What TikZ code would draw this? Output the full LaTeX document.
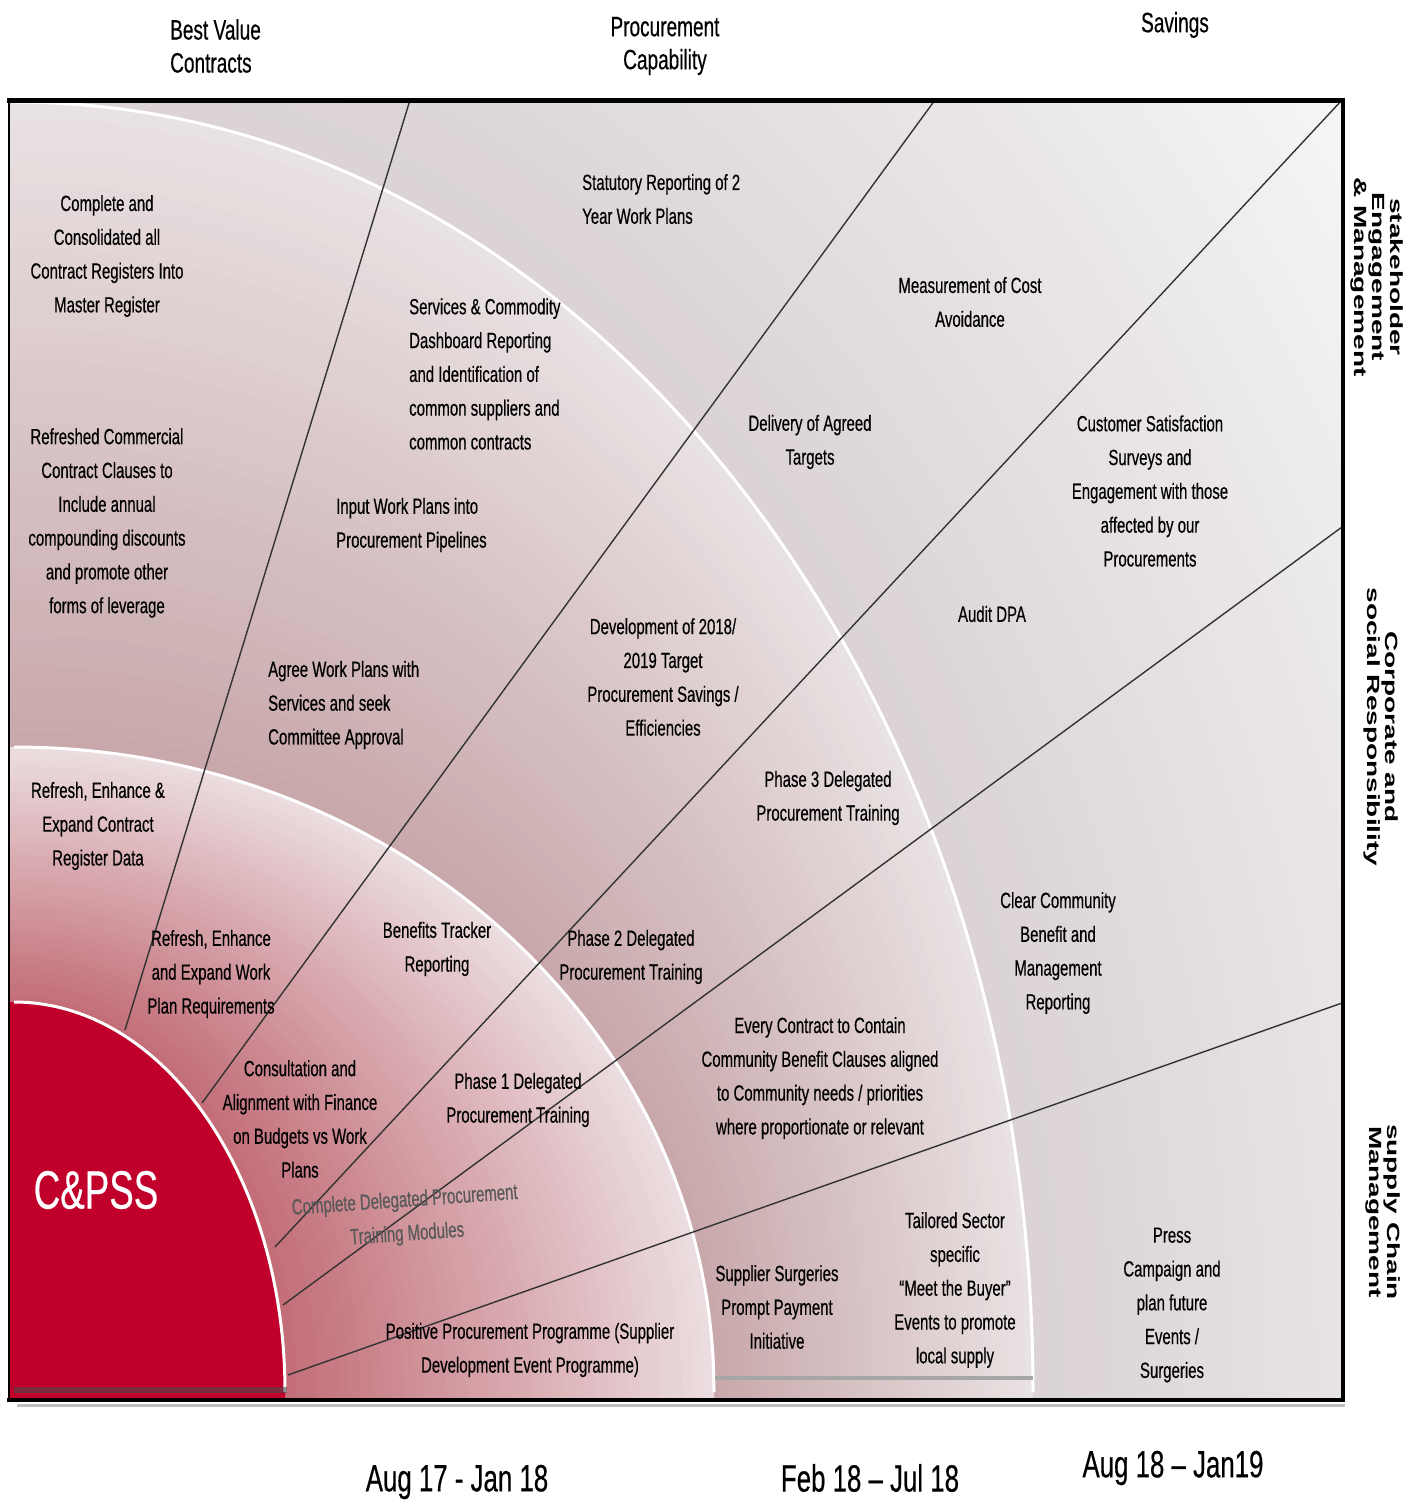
\documentclass[tikz,border=0pt]{standalone}
\usepackage{fontspec}
\usepackage{graphicx}
\setmainfont{Liberation Sans}[FakeStretch=0.68, FakeBold=0.4]
\newfontfamily\sidefont{Liberation Sans}
\definecolor{diskred}{HTML}{C0002B}
\definecolor{bAin}{HTML}{C26C76}
\definecolor{bAout}{HTML}{EBDDDF}
\definecolor{bBin}{HTML}{C8A7AA}
\definecolor{bBout}{HTML}{E9E2E2}
\definecolor{bCin}{HTML}{DAD2D3}
\definecolor{bCout}{HTML}{F6F5F5}
\newcommand\sidelabel[1]{\scalebox{0.63}[1]{\rotatebox{-90}{\sidefont\bfseries\fontsize{28}{29}\selectfont\begin{tabular}{@{}c@{}}#1\end{tabular}}}}
\newcommand\myquad[3]{% #1 colour, #2 rx, #3 ry (integers)
  \edef\myA{\the\numexpr14+#2\relax}%
  \edef\myB{\the\numexpr1392-#3*5523/10000\relax}%
  \edef\myC{\the\numexpr14+#2*5523/10000\relax}%
  \edef\myD{\the\numexpr1392-#3\relax}%
  \fill[#1] (10,1398) -- (\myA,1398) -- (\myA,1392) .. controls (\myA,\myB) and (\myC,\myD) .. (14,\myD) -- (10,\myD) -- cycle;}
\newcommand\myrim[2]{%
  \edef\myA{\the\numexpr14+#1\relax}%
  \edef\myB{\the\numexpr1392-#2*5523/10000\relax}%
  \edef\myC{\the\numexpr14+#1*5523/10000\relax}%
  \edef\myD{\the\numexpr1392-#2\relax}%
  \draw[rimline] (\myA,1392) .. controls (\myA,\myB) and (\myC,\myD) .. (14,\myD);}
\tikzset{
  body/.style={font=\fontsize{22}{33.8}\selectfont, align=center, inner sep=0pt, text=black},
  bodyl/.style={body, align=left, anchor=west},
  head/.style={font=\fontsize{28}{33}\selectfont, align=center, inner sep=0pt},
  datelbl/.style={font=\fontsize{38}{40}\selectfont, inner sep=0pt},
  ray/.style={line width=1.4pt, black!80},
  rimline/.style={white, line width=3pt},
}
\begin{document}
\begin{tikzpicture}[x=1pt,y=-1pt]
\useasboundingbox (0,0) rectangle (1416,1502);
\begin{scope}
  \clip (10,100) rectangle (1342,1398);
  \fill[bCout] (10,100) rectangle (1342,1398);
  % outer band
  \foreach \i in {0,...,40}{
    \edef\myRx{\the\numexpr1019+(662*(40-\i))/40\relax}%
    \edef\myRy{\the\numexpr1290+(838*(40-\i))/40\relax}%
    \edef\myP{\the\numexpr(100*\i)/40\relax}%
    \myquad{bCin!\myP!bCout}{\myRx}{\myRy}
  }
  % middle band
  \foreach \i in {0,...,40}{
    \edef\myRx{\the\numexpr1019-(319*\i)/40\relax}%
    \edef\myRy{\the\numexpr1290-(645*\i)/40\relax}%
    \edef\myP{\the\numexpr(100*\i)/40\relax}%
    \myquad{bBin!\myP!bBout}{\myRx}{\myRy}
  }
  % inner band
  \foreach \i in {0,...,40}{
    \edef\myRx{\the\numexpr700-(429*\i)/40\relax}%
    \edef\myRy{\the\numexpr645-(255*\i)/40\relax}%
    \edef\myP{\the\numexpr(100*\i)/40\relax}%
    \myquad{bAin!\myP!bAout}{\myRx}{\myRy}
  }
  \myquad{diskred}{271}{390}
  \myrim{1019}{1290}
  \myrim{700}{645}
  \myrim{271}{390}
  \fill[black!70, opacity=0.6] (14,1387) rectangle (287,1393);
  \fill[black!35] (715,1376) rectangle (1033,1380);
\end{scope}
% rays
\coordinate (r1a) at (410,100);  \coordinate (r1b) at (125,1030);
\coordinate (r2a) at (935,100);  \coordinate (r2b) at (202,1103);
\coordinate (r3a) at (1342,100); \coordinate (r3b) at (275,1247);
\coordinate (r4a) at (1342,527); \coordinate (r4b) at (283,1305);
\coordinate (r5a) at (1342,1003);\coordinate (r5b) at (288,1375);
\draw[ray] (r1a) -- (r1b);
\draw[ray] (r2a) -- (r2b);
\draw[ray] (r3a) -- (r3b);
\draw[ray] (r4a) -- (r4b);
\draw[ray] (r5a) -- (r5b);
% frame
\draw[line width=2pt] (9,100) -- (9,1400);
\draw[line width=5pt] (7,100) -- (1345,100);
\draw[line width=4pt] (1343,98) -- (1343,1402);
\draw[line width=4pt] (7,1400) -- (1345,1400);
\draw[line width=3pt, black!25] (17,1405) -- (1345,1405);
% headers
\node[head, align=left, anchor=west] (hBest) at (170,46) {Best Value\\Contracts};
\node[head] (hProc) at (665,46) {Procurement\\Capability};
\node[head] (hSav) at (1175,25) {Savings};
% side labels
\node[inner sep=0pt] (sStake) at (1376,277) {\sidelabel{stakeholder\\Engagement\\\& Management}};
\node[inner sep=0pt] (sCorp) at (1380,727) {\sidelabel{Corporate and\\social Responsibility}};
\node[inner sep=0pt] (sSupp) at (1382,1212) {\sidelabel{supply Chain\\Management}};
% dates
\node[datelbl] (d1) at (457,1482) {Aug 17 - Jan 18};
\node[datelbl] (d2) at (870,1478) {Feb 18 – Jul 18};
\node[datelbl] (d3) at (1173,1468) {Aug 18 – Jan19};
% centre
\node[inner sep=0pt, text=white, font=\fontsize{54}{56}\selectfont] (cpss) at (96,1190) {C\&PSS};
% texts
\node[body] (t1) at (107,256) {Complete and\\Consolidated all\\Contract Registers Into\\Master Register};
\node[body] (t2) at (107,523) {Refreshed Commercial\\Contract Clauses to\\Include annual\\compounding discounts\\and promote other\\forms of leverage};
\node[body] (t3) at (98,826) {Refresh, Enhance \&\\Expand Contract\\Register Data};
\node[body] (t4) at (211,974) {Refresh, Enhance\\and Expand Work\\Plan Requirements};
\node[body] (t5) at (300,1119) {Consultation and\\Alignment with Finance\\on Budgets vs Work\\Plans};
\node[body, text=black!65, rotate=4] (t6) at (406,1218) {Complete Delegated Procurement\\Training Modules};
\node[bodyl] (t7) at (268,705) {Agree Work Plans with\\Services and seek\\Committee Approval};
\node[bodyl] (t8) at (336,525) {Input Work Plans into\\Procurement Pipelines};
\node[bodyl] (t9) at (409,374) {Services \& Commodity\\Dashboard Reporting\\and Identification of\\common suppliers and\\common contracts};
\node[bodyl] (t10) at (582,199) {Statutory Reporting of 2\\Year Work Plans};
\node[body] (t11) at (437,949) {Benefits Tracker\\Reporting};
\node[body] (t12) at (518,1100) {Phase 1 Delegated\\Procurement Training};
\node[body] (t13) at (530,1350) {Positive Procurement Programme (Supplier\\Development Event Programme)};
\node[body] (t14) at (631,957) {Phase 2 Delegated\\Procurement Training};
\node[body] (t15) at (663,677) {Development of 2018/\\2019 Target\\Procurement Savings /\\Efficiencies};
\node[body] (t16) at (810,442) {Delivery of Agreed\\Targets};
\node[body] (t17) at (970,302) {Measurement of Cost\\Avoidance};
\node[body] (t18) at (828,798) {Phase 3 Delegated\\Procurement Training};
\node[body] (t19) at (820,1078) {Every Contract to Contain\\Community Benefit Clauses aligned\\to Community needs / priorities\\where proportionate or relevant};
\node[body] (t20) at (1150,491) {Customer Satisfaction\\Surveys and\\Engagement with those\\affected by our\\Procurements};
\node[body] (t21) at (992,614) {Audit DPA};
\node[body] (t22) at (1058,953) {Clear Community\\Benefit and\\Management\\Reporting};
\node[body] (t23) at (777,1307) {Supplier Surgeries\\Prompt Payment\\Initiative};
\node[body] (t24) at (955,1290) {Tailored Sector\\specific\\“Meet the Buyer”\\Events to promote\\local supply};
\node[body] (t25) at (1172,1305) {Press\\Campaign and\\plan future\\Events /\\Surgeries};
\end{tikzpicture}
\end{document}
